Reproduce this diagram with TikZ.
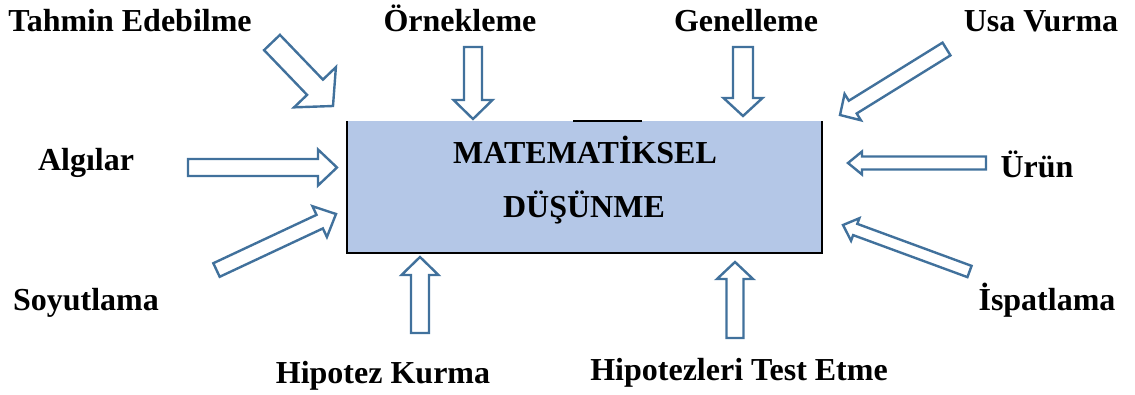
\documentclass[tikz,border=0pt]{standalone}
\usepackage{fontspec}
\setmainfont{Liberation Serif}
\usetikzlibrary{calc}
\definecolor{boxblue}{HTML}{B4C7E7}
\definecolor{arrowblue}{HTML}{41719C}
% #1 tail, #2 tip, #3 half shaft width, #4 half head width, #5 head length
\newcommand\blockarrow[5]{%
  \coordinate (nk) at ($(#2)!#5!(#1)$);
  \draw[barrow] ($(#1)!#3!90:(#2)$) -- ($(nk)!#3!90:(#2)$) -- ($(nk)!#4!90:(#2)$) -- (#2)
    -- ($(nk)!#4!-90:(#2)$) -- ($(nk)!#3!-90:(#2)$) -- ($(#1)!#3!-90:(#2)$) -- cycle;}
\begin{document}
\begin{tikzpicture}[x=1pt,y=-1pt,
  lbl/.style={font=\fontsize{32}{36}\selectfont\bfseries, inner sep=0pt, anchor=base},
  barrow/.style={draw=arrowblue, line width=2.4pt, fill=white, line join=miter},
  edge/.style={line width=2pt, black}]
\useasboundingbox (0,0) rectangle (1135,394);
% central box
\node[fill=boxblue, draw=none, minimum width=475pt, minimum height=132pt, inner sep=0pt] (box) at (584.5,187) {};
\draw[edge] (box.north west) -- (box.south west) -- (box.south east) -- (box.north east);
\coordinate (stubA) at (573,121);
\coordinate (stubB) at (642,121);
\draw[line width=1.5pt] (stubA) -- (stubB);
\node[lbl] (t1) at (585,163) {MATEMATİKSEL};
\node[lbl] (t2) at (584,217) {DÜŞÜNME};
% labels
\node[lbl] (tahmin) at (130,31) {Tahmin Edebilme};
\node[lbl] (ornek) at (460,31) {Örnekleme};
\node[lbl] (genel) at (746,31) {Genelleme};
\node[lbl] (usa) at (1041,31) {Usa Vurma};
\node[lbl] (algi) at (86,170) {Algılar};
\node[lbl] (urun) at (1037,177) {Ürün};
\node[lbl] (soyut) at (86,310) {Soyutlama};
\node[lbl] (ispat) at (1047,310) {İspatlama};
\node[lbl] (hipo) at (383,383) {Hipotez Kurma};
\node[lbl] (test) at (739,380) {Hipotezleri Test Etme};
% arrow ends
\coordinate (a1s) at (272,42.5);  \coordinate (a1e) at (333,106);
\coordinate (a2s) at (473,47);    \coordinate (a2e) at (473,119);
\coordinate (a3s) at (743,47);    \coordinate (a3e) at (743,116);
\coordinate (a4s) at (946.5,49);  \coordinate (a4e) at (840,115);
\coordinate (a5s) at (188,167.5); \coordinate (a5e) at (337,167.5);
\coordinate (a6s) at (216.5,270); \coordinate (a6e) at (336,214);
\coordinate (a7s) at (986,163);   \coordinate (a7e) at (848,163);
\coordinate (a8s) at (969.5,271.5); \coordinate (a8e) at (843,225);
\coordinate (a9s) at (420,333);   \coordinate (a9e) at (420,257);
\coordinate (a10s) at (735,338);  \coordinate (a10e) at (735,262);
\blockarrow{a1s}{a1e}{11pt}{29pt}{26pt}
\blockarrow{a2s}{a2e}{9pt}{19.5pt}{19pt}
\blockarrow{a3s}{a3e}{10pt}{19.5pt}{18pt}
\blockarrow{a4s}{a4e}{7.5pt}{15.5pt}{15pt}
\blockarrow{a5s}{a5e}{8.5pt}{18pt}{19pt}
\blockarrow{a6s}{a6e}{7.5pt}{17pt}{18pt}
\blockarrow{a7s}{a7e}{6.5pt}{11.5pt}{14pt}
\blockarrow{a8s}{a8e}{6pt}{12pt}{13pt}
\blockarrow{a9s}{a9e}{9pt}{18.5pt}{18pt}
\blockarrow{a10s}{a10e}{8.5pt}{18pt}{17pt}
\end{tikzpicture}
\end{document}
